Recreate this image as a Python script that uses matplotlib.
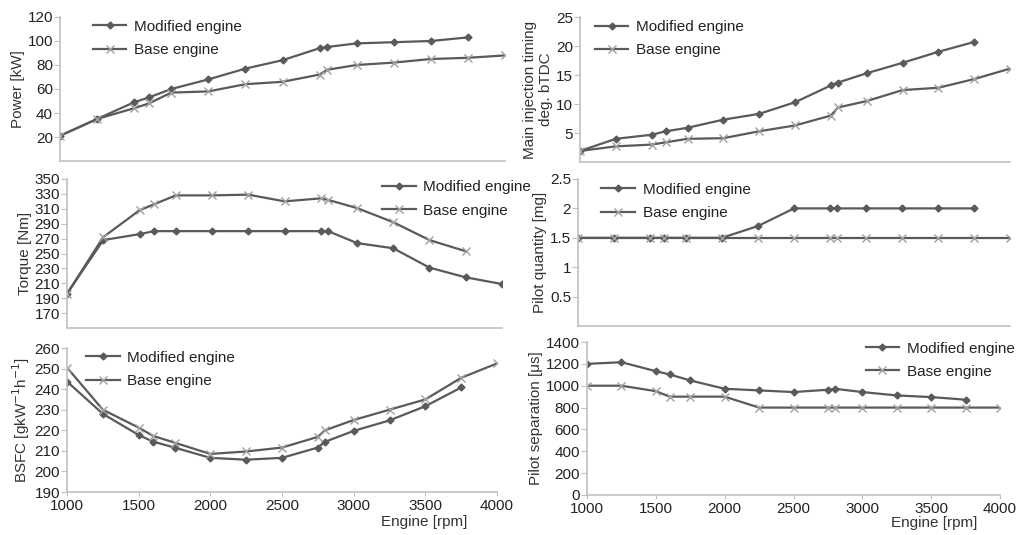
import numpy as np
import matplotlib
matplotlib.use('Agg')
import matplotlib.pyplot as plt

plt.rcParams['font.family'] = ['Liberation Sans', 'DejaVu Sans']

# engine speeds
rpm = [1000, 1250, 1500, 1600, 1750, 2000, 2250, 2500, 2750, 2800, 3000, 3250, 3500, 3750, 4000]

# power [kW]
power_mod = [21, 35, 49, 53, 60, 68, 77, 84, 94, 95, 98, 99, 100, 103]
power_base = [21, 35, 44, 48, 57, 58, 64, 66, 72, 76, 80, 82, 85, 86, 88]

# main injection timing [deg bTDC]
timing_mod = [1.9, 4.0, 4.7, 5.3, 5.9, 7.3, 8.3, 10.3, 13.2, 13.7, 15.3, 17.1, 19.0, 20.7]
timing_base = [1.9, 2.7, 3.0, 3.4, 4.0, 4.1, 5.3, 6.3, 8.0, 9.4, 10.5, 12.4, 12.8, 14.3, 16.1]

# torque [Nm]
torque_mod = [196, 268, 276, 280, 280, 280, 280, 280, 280, 280, 264, 257, 231, 218, 209]
torque_base = [196, 272, 308, 316, 328, 328, 329, 320, 324, 322, 311, 292, 268, 253]

# pilot quantity [mg]
pilot_q_mod = [1.5, 1.5, 1.5, 1.5, 1.5, 1.5, 1.7, 2.0, 2.0, 2.0, 2.0, 2.0, 2.0, 2.0]
pilot_q_base = [1.5] * 15

# BSFC [g/kWh]
bsfc_mod = [243.7, 228, 217.7, 214.5, 211.6, 206.6, 205.7, 206.6, 211.6, 214.4, 219.7, 224.8, 231.7, 240.8]
bsfc_base = [250.5, 230, 221.3, 217.3, 214, 208.5, 209.7, 211.6, 216.8, 220, 225, 230, 235, 245.5, 252.5]

# pilot separation [us]
pilot_s_mod = [1200, 1215, 1133, 1103, 1048, 972, 957, 942, 963, 972, 942, 911, 896, 872]
pilot_s_base = [1000, 1000, 950, 900, 900, 900, 800, 800, 800, 800, 800, 800, 800, 800, 800]

W, H = 1021, 535
fig = plt.figure(figsize=(W / 100, H / 100), dpi=100)

line_c = '#5a5a5a'
spine_c = '#c0c0c0'


def px_axes(x0, x1, ytop, ybot):
    return fig.add_axes([x0 / W, 1 - ybot / H, (x1 - x0) / W, (ybot - ytop) / H])


def draw(ax, mod, base, ylim, yticks, ylabel, legend_loc, show_x=False):
    ax.plot(rpm[:len(mod)], mod, color=line_c, lw=1.6, marker='D', ms=3.5,
            mfc=line_c, mec=line_c, label='Modified engine')
    ax.plot(rpm[:len(base)], base, color=line_c, lw=1.6, marker='x', ms=6,
            mec='#a0a0a0', mew=1.0, label='Base engine')
    ax.set_xlim(1000, 4000)
    ax.set_ylim(*ylim)
    ax.set_yticks(yticks)
    ax.set_yticklabels(['{:g}'.format(t) for t in yticks])
    for s in ['top', 'right']:
        ax.spines[s].set_visible(False)
    for s in ['left', 'bottom']:
        ax.spines[s].set_color(spine_c)
        ax.spines[s].set_linewidth(1.2)
    ax.tick_params(axis='y', colors=spine_c, labelcolor='#222222', labelsize=11,
                   length=4, pad=1)
    if show_x:
        ax.set_xticks(range(1000, 4001, 500))
        ax.tick_params(axis='x', colors=spine_c, labelcolor='#222222', labelsize=11,
                       length=3, pad=2)
    else:
        ax.set_xticks([])
    ax.set_ylabel(ylabel, fontsize=11, color='#333333', labelpad=2)
    ax.patch.set_alpha(0)
    leg = ax.legend(loc=legend_loc, frameon=False, fontsize=11, handlelength=2.2,
                    handletextpad=0.5, labelspacing=0.6, borderaxespad=0.2)
    for t in leg.get_texts():
        t.set_color('#222222')
    return ax


ax1 = px_axes(60, 505, 17, 161)
draw(ax1, power_mod, power_base, (0, 120), range(20, 121, 20), 'Power [kW]',
     (0.06, 0.68))

ax2 = px_axes(580, 1010, 17, 162)
draw(ax2, timing_mod, timing_base, (0, 25), range(5, 26, 5),
     'Main injection timing\ndeg. bTDC', (0.02, 0.68))

ax3 = px_axes(67, 502, 179, 328)
draw(ax3, torque_mod, torque_base, (150, 350), range(170, 351, 20), 'Torque [Nm]',
     (0.71, 0.70))

ax4 = px_axes(578, 1010, 179, 326)
draw(ax4, pilot_q_mod, pilot_q_base, (0, 2.5), [0.5, 1, 1.5, 2, 2.5],
     'Pilot quantity [mg]', (0.04, 0.68))

ax5 = px_axes(67, 497, 348, 492)
draw(ax5, bsfc_mod, bsfc_base, (190, 260), range(190, 261, 10),
     'BSFC [gkW$^{-1}$h$^{-1}$]', (0.03, 0.68), show_x=True)
ax5.set_xlabel('Engine [rpm]', fontsize=11, color='#333333')
ax5.xaxis.set_label_coords(0.83, -0.16)

ax6 = px_axes(587, 1000, 342, 495)
draw(ax6, pilot_s_mod, pilot_s_base, (0, 1400), range(0, 1401, 200),
     'Pilot separation [\u03bcs]', (0.66, 0.72), show_x=True)
ax6.set_xlabel('Engine [rpm]', fontsize=11, color='#333333')
ax6.xaxis.set_label_coords(0.84, -0.14)

fig.savefig('out.png', dpi=100)
